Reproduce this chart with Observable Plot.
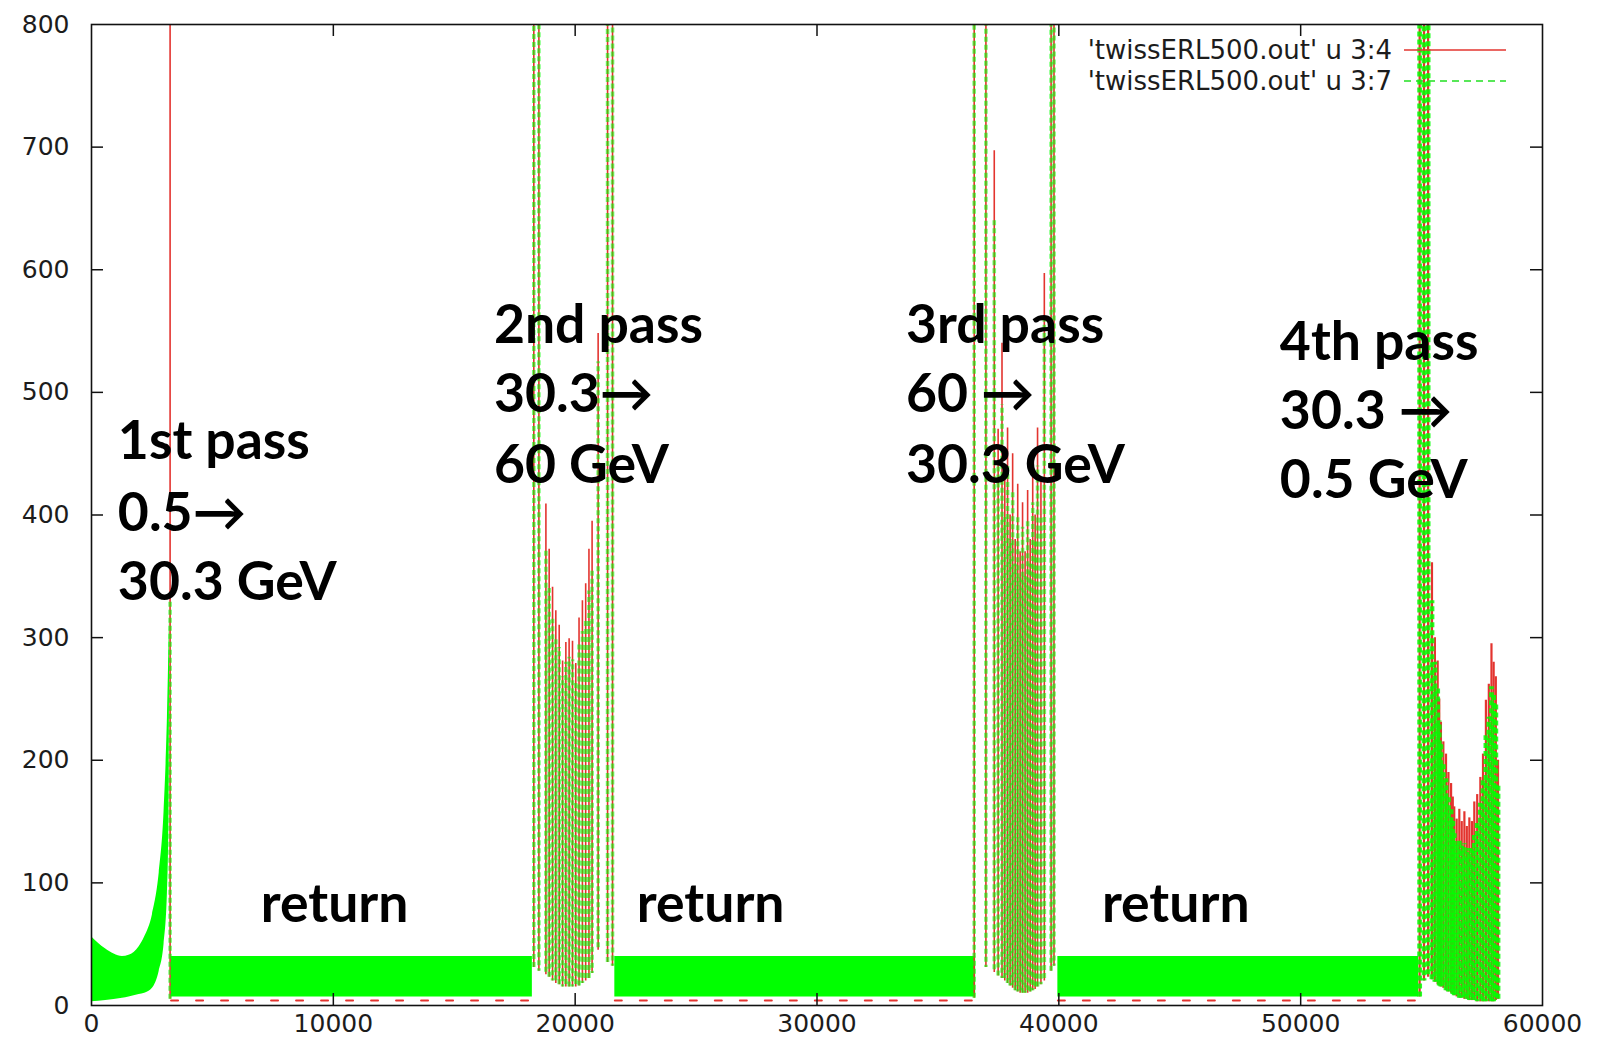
<!DOCTYPE html>
<html>
<head>
<meta charset="utf-8">
<script src="https://cdn.jsdelivr.net/npm/d3@7"></script>
<script src="https://cdn.jsdelivr.net/npm/@observablehq/plot@0.6"></script>
<style>
  html, body { margin: 0; padding: 0; background: #fff; }
  #chart svg { display: block; }
</style>
</head>
<body>
<div id="chart"></div>
<script>
// ---------- axes ----------
const xTicks = [0, 10000, 20000, 30000, 40000, 50000, 60000];
const yTicks = [0, 100, 200, 300, 400, 500, 600, 700, 800];

// ---------- series names ----------
const seriesNames = ["'twissERL500.out' u 3:4", "'twissERL500.out' u 3:7"];

// ---------- 1st pass linac: envelope of the fast beta oscillation ----------
const pass1X    = [0, 590, 1280, 1550, 1970, 2200, 2520, 2800, 3000, 3140, 3200, 3240];
const pass1High = [56, 46, 40, 41, 48, 56, 74, 108, 158, 235, 290, 330];
const pass1Low  = [3, 4, 6, 7, 9, 10, 14, 28, 50, 92, 150, 330];

// ---------- return arcs: dense oscillation band ----------
const returnStart  = [3290, 21640, 39960];
const returnEnd    = [18230, 36560, 54880];
const returnTop    = [40, 40, 40];
const returnBottom = [7, 7, 7];
const returnRedMin = [4, 4, 4];

// ---------- linac spikes: position, peak of col 4, peak of col 7, trough ----------
const spike1X     = [3250];
const spike1Red   = [1000];
const spike1Green = [330];
const spike1Low   = [5];

const pass2X     = [18290, 18500, 18790, 18925, 19065, 19200, 19340, 19480, 19615, 19750, 19890, 20025, 20160, 20300, 20435, 20570, 20700, 20950, 21340, 21545];
const pass2Red   = [1000, 1000, 409, 372, 341, 322, 310, 281, 296, 299, 297, 279, 316, 330, 344, 372, 395, 548, 1000, 1000];
const pass2Green = [1000, 1000, 372, 340, 315, 300, 292, 268, 280, 284, 282, 265, 296, 305, 315, 338, 355, 525, 1000, 1000];
const pass2Low   = [31, 28, 25, 23, 20, 18, 17, 15, 15, 15, 15, 15, 16, 18, 20, 22, 26, 45, 35, 32];

const pass3X     = [36500, 36985, 37330, 37490, 37650, 37765, 37880, 37985, 38090, 38195, 38300, 38400, 38500, 38605, 38710, 38815, 38920, 39020, 39120, 39260, 39400, 39680, 39800];
const pass3Red   = [1000, 1000, 697, 470, 540, 430, 471, 400, 450, 380, 425, 370, 410, 370, 420, 380, 440, 400, 471, 430, 597, 1000, 1000];
const pass3Green = [1000, 1000, 640, 440, 490, 400, 440, 380, 420, 360, 400, 350, 390, 350, 395, 360, 410, 380, 440, 400, 560, 1000, 1000];
const pass3Low   = [6, 31, 27, 24, 22, 20, 18, 16, 14, 12, 11, 10, 10, 10, 10, 11, 12, 13, 15, 17, 20, 28, 32];

const pass4X     = [54920, 55100, 55270, 55430, 55550, 55665, 55730, 55800, 55900, 56010, 56110, 56220, 56290, 56350, 56450, 56560, 56660, 56770, 56870, 56975, 57080, 57180, 57300, 57430, 57540, 57660, 57780, 57890, 57980, 58070, 58160];
const pass4Red   = [1000, 1000, 1000, 361, 300, 281, 250, 231, 215, 205, 190, 181, 170, 162, 152, 160, 150, 158, 146, 153, 150, 166, 172, 186, 205, 249, 262, 295, 280, 268, 200];
const pass4Green = [1000, 1000, 1000, 330, 280, 260, 232, 215, 198, 185, 170, 160, 150, 140, 132, 135, 130, 132, 125, 128, 128, 140, 150, 165, 185, 220, 235, 260, 255, 245, 180];
const pass4Low   = [7, 20, 23, 21, 19, 17, 16, 15, 14, 12, 11, 10, 9, 8, 7, 6, 6, 5, 5, 4, 4, 4, 3, 3, 3, 3, 3, 3, 3, 4, 5];

// ---------- annotations (data coordinates) ----------
const noteX    = [1090, 1090, 1090, 16640, 16640, 16640, 33680, 33680, 33680, 49140, 49140, 49140, 7000, 22550, 41780];
const noteY    = [460, 401, 345, 554, 498, 440, 554, 498, 440, 540, 484, 428, 82, 82, 82];
const noteText = ["1st pass", "0.5\u2192", "30.3 GeV",
                  "2nd pass", "30.3\u2192", "60 GeV",
                  "3rd pass", "60 \u2192", "30.3 GeV",
                  "4th pass", "30.3 \u2192", "0.5 GeV",
                  "return", "return", "return"];

// ---------- tables built from the arrays ----------
const pass1 = pass1X.map((x, i) => ({x, lo: pass1Low[i], hi: pass1High[i]}));
const arcs = returnStart.flatMap((s, i) => [
  {arc: i, x: s, lo: returnBottom[i], hi: returnTop[i], redMin: returnRedMin[i]},
  {arc: i, x: returnEnd[i], lo: returnBottom[i], hi: returnTop[i], redMin: returnRedMin[i]}
]);
const toSpikes = (xs, red, green, low) => xs.map((x, i) => ({x, red: red[i], green: green[i], low: low[i], k: i % 3}));
const spikesSparse = [
  ...toSpikes(spike1X, spike1Red, spike1Green, spike1Low),
  ...toSpikes(pass2X, pass2Red, pass2Green, pass2Low),
  ...toSpikes(pass3X, pass3Red, pass3Green, pass3Low)
];
const spikesDense = toSpikes(pass4X, pass4Red, pass4Green, pass4Low);
const notes = noteX.map((x, i) => ({x, y: noteY[i], text: noteText[i]}));

// ---------- layout ----------
const W = 1601, H = 1051;
const mL = 91, mR = 59, mT = 24, mB = 46;
const innerW = W - mL - mR, innerH = H - mT - mB;
const tickLen = 12;

const RED = "#e3342f";
const GREEN = "#00ff00";
const INK = "#1c1c1c";

// oscillating columns: solid red underneath, dashed green on top;
// neighbouring columns get shifted dash phases so the dashes do not line up
const dashOffsets = [0, 2.7, 5.4];
const spikeMarks = (data, redWidth, greenWidth, greenOpacity) => [
  Plot.ruleX(data, {x: "x", y1: "low", y2: "red", stroke: RED, strokeWidth: redWidth}),
  ...dashOffsets.map((off, k) =>
    Plot.ruleX(data.filter(d => d.k === k), {x: "x", y1: "low", y2: "green", stroke: GREEN,
      strokeOpacity: greenOpacity, strokeWidth: greenWidth, strokeDasharray: "5,3", strokeDashoffset: off}))
];

const chart = Plot.plot({
  width: W,
  height: H,
  marginLeft: mL,
  marginRight: mR,
  marginTop: mT,
  marginBottom: mB,
  style: {fontFamily: "'DejaVu Sans', sans-serif", fontSize: "25px", color: INK, background: "#fff"},
  x: {domain: [0, 60000]},
  y: {domain: [0, 800], clamp: true},
  marks: [
    // return arcs
    Plot.line(arcs, {x: "x", y: "redMin", z: "arc", stroke: RED, strokeWidth: 2, strokeDasharray: "7,18"}),
    Plot.areaY(arcs, {x: "x", y1: "lo", y2: "hi", z: "arc", fill: GREEN}),
    // 1st pass envelope
    Plot.areaY(pass1, {x: "x", y1: "lo", y2: "hi", fill: GREEN, curve: "monotone-x"}),
    // linac spikes
    ...spikeMarks(spikesSparse, 1.6, 3.6, 0.55),
    ...spikeMarks(spikesDense, 2.2, 4.8, 0.85),
    // frame and inward ticks on all four sides
    Plot.frame({stroke: "#111", strokeWidth: 1.6}),
    Plot.tickY(yTicks.slice(1, -1), {y: d => d, insetRight: innerW - tickLen, stroke: "#111", strokeWidth: 1.5}),
    Plot.tickY(yTicks.slice(1, -1), {y: d => d, insetLeft: innerW - tickLen, stroke: "#111", strokeWidth: 1.5}),
    Plot.tickX(xTicks.slice(1, -1), {x: d => d, insetTop: innerH - tickLen, stroke: "#111", strokeWidth: 1.5}),
    Plot.tickX(xTicks.slice(1, -1), {x: d => d, insetBottom: innerH - tickLen, stroke: "#111", strokeWidth: 1.5}),
    Plot.axisX({ticks: xTicks, tickSize: 0, tickPadding: 9, tickFormat: d => `${d}`, label: null, fontSize: 25}),
    Plot.axisY({ticks: yTicks, tickSize: 0, tickPadding: 22, tickFormat: d => `${d}`, label: null, fontSize: 25}),
    // pass annotations
    Plot.text(notes, {x: "x", y: "y", text: "text", textAnchor: "start", fill: "#000",
      fontFamily: "Lato, 'Open Sans', sans-serif", fontWeight: "bold", fontSize: 53.5})
  ]
});

document.getElementById("chart").appendChild(chart);

// ---------- in-frame key, top right ----------
const svg = d3.select(chart);
const key = svg.append("g").attr("font-family", "'DejaVu Sans', sans-serif").attr("font-size", 26).attr("fill", INK);
const keyRight = W - mR;
const keyStyles = [{stroke: RED, dash: null}, {stroke: "#22e022", dash: "7,5"}];
seriesNames.forEach((name, i) => {
  const cy = 50 + i * 31;
  key.append("text")
    .attr("x", keyRight - 150)
    .attr("y", cy)
    .attr("dy", "0.35em")
    .attr("text-anchor", "end")
    .text(name);
  key.append("line")
    .attr("x1", keyRight - 138)
    .attr("x2", keyRight - 36)
    .attr("y1", cy)
    .attr("y2", cy)
    .attr("stroke", keyStyles[i].stroke)
    .attr("stroke-width", 1.5)
    .attr("stroke-dasharray", keyStyles[i].dash);
});
</script>
</body>
</html>
